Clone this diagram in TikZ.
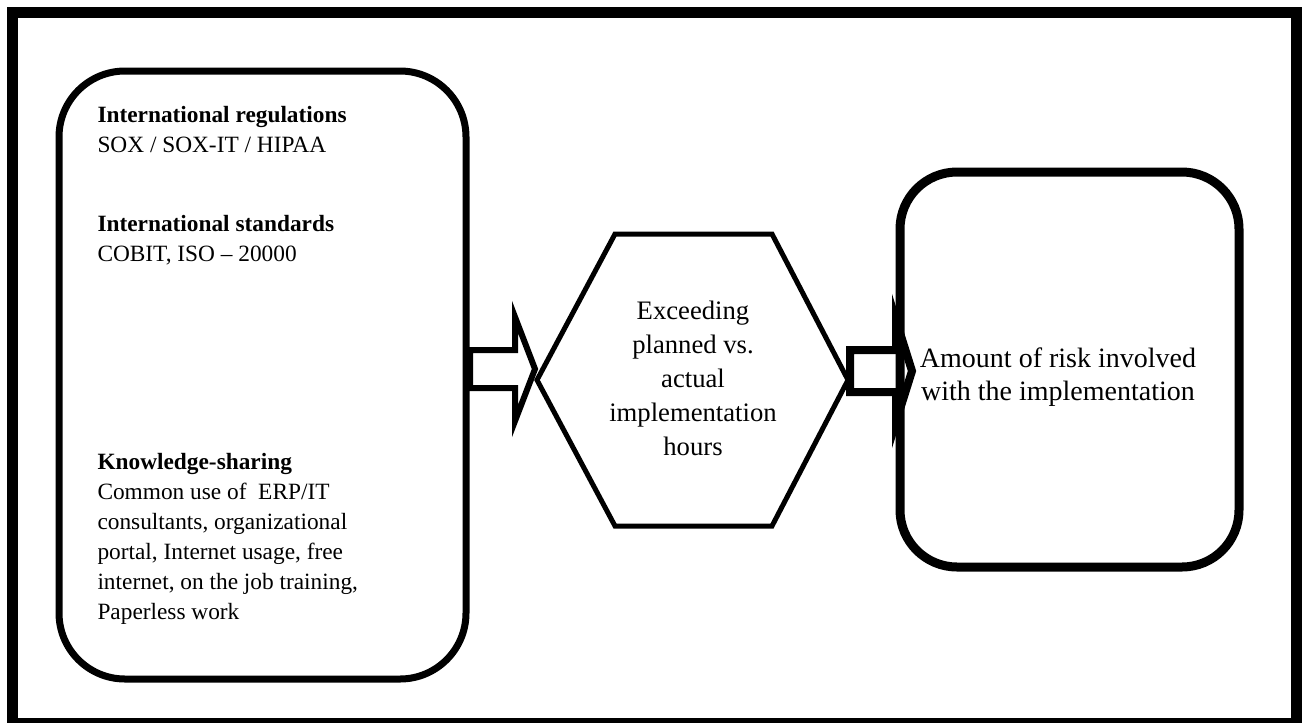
\documentclass[tikz,border=0pt]{standalone}
\usepackage{fontspec}
\setmainfont{Liberation Serif}

\tikzset{every picture/.style={line width=0.75pt}}
\tikzset{
	boxleft/.style={line width=5.25pt, rounded corners=49.5pt},
	boxright/.style={line width=6.75pt, rounded corners=42.75pt},
	hexline/.style={line width=3.75pt},
	blockarrow/.style={line width=4.5pt},
	leftlabel/.style={anchor=north west, inner sep=0pt, align=left, font=\fontsize{17.5}{22.5}\selectfont},
	midlabel/.style={inner sep=0pt, align=center, font=\fontsize{20}{25.5}\selectfont}
}

\begin{document}
\begin{tikzpicture}[x=0.75pt,y=0.75pt,yscale=-1,xscale=1]
	\useasboundingbox (0,0) rectangle (1306,722);
	
	%Shape: Frame
	\draw [line width=8.25pt]  (12.5,12.5) rectangle (1296,723.5) ;
	%Shape: Rounded Rect (left)
	\draw [boxleft]  (59,71) rectangle (466,679) ;
	%Shape: Rounded Rect (right)
	\draw [boxright]  (900,172) rectangle (1239,567) ;
	%Shape: Hexagon
	\draw [hexline]  (615,234) -- (772,234) -- (848,380) -- (772,526) -- (615,526) -- (537,380) -- cycle ;
	
	\coordinate (arrowA) at (470,369);
	\coordinate (arrowB) at (850,371);
	%Shape: Right Arrow [left box to hexagon]
	\draw [blockarrow]  (arrowA) ++(0,-19) -- ++(45,0) -- ++(0,-33) -- ++(20,52) -- ++(-20,52) -- ++(0,-33) -- ++(-45,0) -- cycle ;
	%Shape: Right Arrow [hexagon to right box]
	\draw [blockarrow, line width=6pt]  (arrowB) ++(0,-21) -- ++(46,0) -- ++(0,-30) -- ++(16,51) -- ++(-16,51) -- ++(0,-30) -- ++(-46,0) -- cycle ;
	
	% Text Node
	\node [leftlabel] (regs) at (97,106) {\textbf{International regulations}\\SOX / SOX-IT / HIPAA};
	% Text Node
	\node [leftlabel] (stds) at (97,215) {\textbf{International standards}\\COBIT, ISO -- 20000};
	% Text Node
	\node [leftlabel] (share) at (97,453) {\textbf{Knowledge-sharing}\\Common use of \ ERP/IT\\consultants, organizational\\portal, Internet usage, free\\internet, on the job training,\\Paperless work};
	% Text Node
	\node [midlabel] (exceed) at (693,378) {Exceeding\\planned vs.\\actual\\implementation\\hours};
	% Text Node
	\node [midlabel, font=\fontsize{21}{24.75}\selectfont] (risk) at (1058,377) {Amount of risk involved\\with the implementation};
	
\end{tikzpicture}
\end{document}
